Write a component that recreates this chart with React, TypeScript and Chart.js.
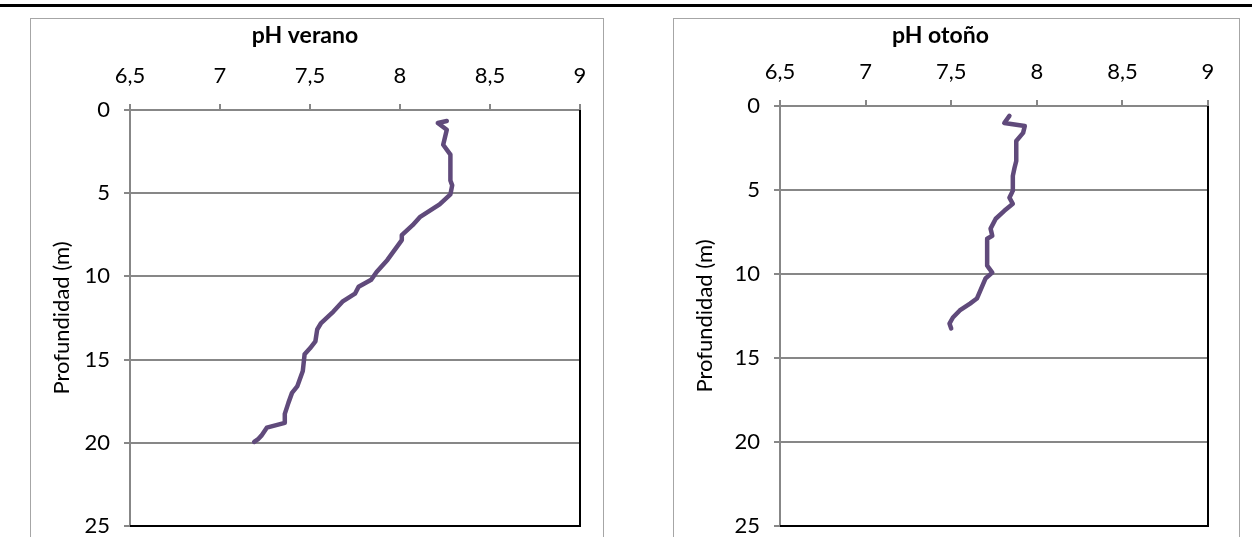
import React, { useEffect, useRef } from "react";
import { Chart, registerables } from "chart.js";

Chart.register(...registerables);

// ---- data ----
const phTicks = [6.5, 7, 7.5, 8, 8.5, 9];
const depthTicks = [0, 5, 10, 15, 20, 25];

const veranoDepth = [0.66, 0.78, 1.19, 2.09, 2.68, 4.24, 4.53, 5.07, 5.67, 6.44, 6.92, 7.52, 7.82, 9.01, 9.73, 10.2, 10.62, 11.04, 11.52, 12.11, 12.83, 13.19, 13.9, 14.32, 14.68, 15.69, 16.59, 17.0, 17.6, 18.26, 18.8, 19.09, 19.57, 19.8, 19.95];
const veranoPH = [8.26, 8.21, 8.26, 8.24, 8.28, 8.28, 8.29, 8.28, 8.22, 8.11, 8.07, 8.01, 8.01, 7.93, 7.87, 7.84, 7.77, 7.75, 7.68, 7.63, 7.56, 7.54, 7.53, 7.5, 7.47, 7.46, 7.43, 7.4, 7.38, 7.36, 7.36, 7.26, 7.23, 7.21, 7.19];

const otonoDepth = [0.59, 1.01, 1.19, 1.6, 2.08, 3.27, 3.68, 4.16, 4.63, 5.05, 5.46, 5.82, 6.24, 6.71, 7.3, 7.72, 7.9, 8.61, 9.03, 9.5, 9.92, 10.27, 10.99, 11.46, 11.76, 12.17, 12.59, 12.95, 13.24];
const otonoPH = [7.84, 7.81, 7.93, 7.92, 7.88, 7.88, 7.87, 7.86, 7.86, 7.86, 7.84, 7.86, 7.81, 7.76, 7.73, 7.74, 7.71, 7.71, 7.71, 7.71, 7.74, 7.7, 7.67, 7.65, 7.61, 7.55, 7.51, 7.49, 7.5];

const FONT = "Lato, 'Noto Sans', sans-serif";
const GRAY = "#878787";
const LINE = "#604A7B";

const frameBorder = {
  id: "frameBorder",
  afterDraw(chart: any) {
    const { ctx, chartArea } = chart;
    ctx.save();
    ctx.strokeStyle = "#000";
    ctx.lineWidth = 2;
    ctx.beginPath();
    ctx.moveTo(chartArea.right, chartArea.top);
    ctx.lineTo(chartArea.right, chartArea.bottom);
    ctx.lineTo(chartArea.left, chartArea.bottom);
    ctx.stroke();
    ctx.restore();
  },
};

type PanelProps = {
  title: string;
  depth: number[];
  ph: number[];
  left: number;
  width: number;
  areaLeft: number;
  areaRight: number;
  areaTop: number;
};

const TOP = 18;
const CANVAS_H = 537 - TOP;
const AREA_BOTTOM = 508;

function Panel({ title, depth, ph, left, width, areaLeft, areaRight, areaTop }: PanelProps) {
  const ref = useRef<HTMLCanvasElement | null>(null);
  useEffect(() => {
    if (!ref.current) return;
    const titleSize = 23;
    const titlePadTop = 4;
    const titleH = titleSize * 1.2 + titlePadTop;
    const chart = new Chart(ref.current, {
      type: "scatter",
      data: {
        datasets: [
          {
            data: depth.map((d, i) => ({ x: ph[i], y: d })),
            showLine: true,
            borderColor: LINE,
            backgroundColor: LINE,
            borderWidth: 4.5,
            pointRadius: 0,
            tension: 0,
            borderCapStyle: "round",
            borderJoinStyle: "round",
          },
        ],
      },
      options: {
        responsive: false,
        animation: false,
        devicePixelRatio: 1,
        layout: {
          padding: { left: 0, top: 0, right: width - areaRight, bottom: CANVAS_H - AREA_BOTTOM },
        },
        plugins: {
          legend: { display: false },
          tooltip: { enabled: false },
          title: {
            display: true,
            text: title,
            color: "#000",
            font: { family: FONT, size: titleSize, weight: "bold" },
            padding: { top: titlePadTop, bottom: 0 },
          },
        },
        scales: {
          x: {
            type: "linear",
            position: "top",
            min: 6.5,
            max: 9,
            afterBuildTicks: (s: any) => {
              s.ticks = phTicks.map((v) => ({ value: v }));
            },
            afterFit: (s: any) => {
              s.height = areaTop - titleH;
              s.paddingLeft = 0;
              s.paddingRight = 0;
            },
            ticks: {
              color: "#000",
              font: { family: FONT, size: 22 },
              padding: 15,
              maxRotation: 0,
              callback: (v: any) => String(v).replace(".", ","),
            },
            grid: {
              drawOnChartArea: false,
              drawTicks: true,
              tickLength: 6,
              color: GRAY,
              lineWidth: 2,
            },
            border: { display: true, color: GRAY, width: 2 },
          },
          y: {
            type: "linear",
            reverse: true,
            min: 0,
            max: 25,
            afterBuildTicks: (s: any) => {
              s.ticks = depthTicks.map((v) => ({ value: v }));
            },
            afterFit: (s: any) => {
              s.width = areaLeft;
              s.paddingTop = 0;
              s.paddingBottom = 0;
            },
            ticks: {
              color: "#000",
              font: { family: FONT, size: 22 },
              padding: 14,
              callback: (v: any) => String(v),
            },
            grid: {
              drawOnChartArea: true,
              drawTicks: true,
              tickLength: 6,
              color: GRAY,
              lineWidth: 2,
            },
            border: { display: true, color: GRAY, width: 2 },
            title: {
              display: true,
              text: "Profundidad (m)",
              color: "#000",
              font: { family: FONT, size: 22 },
              padding: { top: 19, bottom: 0 },
            },
          },
        },
      },
      plugins: [frameBorder],
    } as any);
    return () => chart.destroy();
  }, []);

  return (
    <>
      <div
        style={{
          position: "absolute",
          left,
          top: TOP,
          width,
          height: 560,
          border: "1.5px solid #A6A6A6",
          boxSizing: "border-box",
        }}
      />
      <canvas
        ref={ref}
        width={width}
        height={CANVAS_H}
        style={{ position: "absolute", left, top: TOP, width, height: CANVAS_H }}
      />
    </>
  );
}

export default function App() {
  return (
    <div
      style={{
        position: "fixed",
        left: 0,
        top: 0,
        width: 1252,
        height: 537,
        overflow: "hidden",
        background: "#fff",
      }}
    >
      <div style={{ position: "absolute", left: 0, top: 4, width: 1252, height: 3, background: "#000" }} />
      <Panel
        title="pH verano"
        depth={veranoDepth}
        ph={veranoPH}
        left={30}
        width={574}
        areaLeft={100}
        areaRight={550}
        areaTop={92}
      />
      <Panel
        title="pH otoño"
        depth={otonoDepth}
        ph={otonoPH}
        left={673}
        width={567}
        areaLeft={107}
        areaRight={535}
        areaTop={88}
      />
    </div>
  );
}
